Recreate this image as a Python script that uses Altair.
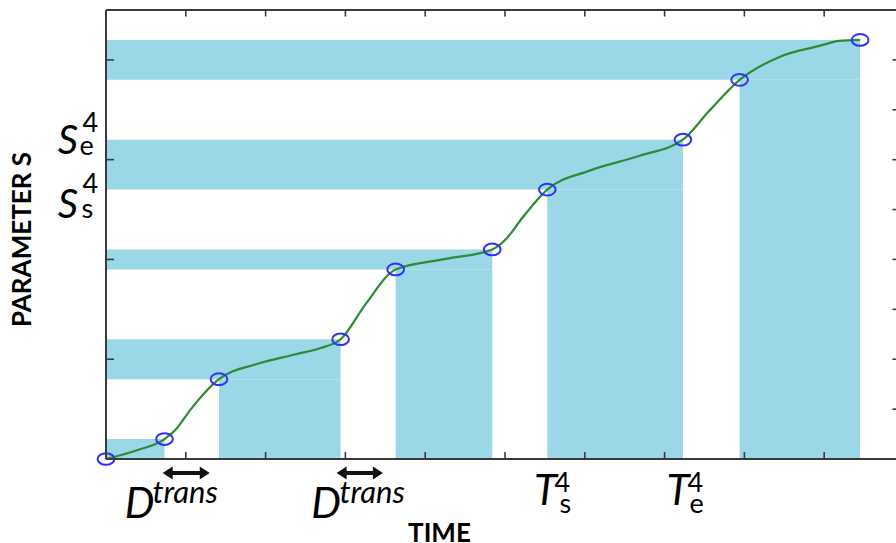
import altair as alt
import pandas as pd

# Stages of the parameter trajectory: each stage runs from (t_start, s_start) to (t_end, s_end)
T_START = [0.0, 1.416, 3.63, 5.53, 7.94]
T_END = [0.733, 2.94, 4.84, 7.23, 9.45]
S_START = [0.0, 0.8, 1.9, 2.7, 3.8]
S_END = [0.2, 1.2, 2.1, 3.2, 4.2]

# Smooth trajectory of S over time
CURVE_T = [0.0, 0.38, 0.733, 0.88, 1.05, 1.416, 1.88, 2.38, 2.68, 2.94, 3.26, 3.63,
           4.26, 4.84, 5.02, 5.22, 5.53, 6.06, 6.69, 7.23, 7.56, 7.94, 8.44, 8.94,
           9.19, 9.45]
CURVE_S = [0.0, 0.085, 0.2, 0.3, 0.485, 0.8, 0.95, 1.05, 1.11, 1.2, 1.56, 1.9,
           2.005, 2.1, 2.21, 2.42, 2.7, 2.89, 3.04, 3.2, 3.49, 3.8, 4.03, 4.14,
           4.19, 4.2]

T_MAX = 9.9
S_MAX = 4.5
X_TICKS = [1, 2, 3, 4, 5, 6, 7, 8, 9]
Y_TICKS_LEFT = [1, 2, 3, 4]
Y_TICKS_RIGHT = [0.5, 1.0, 1.5, 2.0, 2.5, 3.0, 3.5, 4.0]

# Transition-duration arrows (tips)
ARROW_START = [0.71, 2.89]
ARROW_END = [1.30, 3.47]
ARROW_S = -0.14

FONT = "Lato"
INK = "#3a3a3a"

# ---- tables ----
rect_rows = []
for ts, te, ss, se in zip(T_START, T_END, S_START, S_END):
    rect_rows.append({"t0": 0.0, "t1": te, "s0": ss, "s1": se})
    if ss > 0:
        rect_rows.append({"t0": ts, "t1": te, "s0": 0.0, "s1": ss})
rects = pd.DataFrame(rect_rows)

curve = pd.DataFrame({"t": CURVE_T, "s": CURVE_S})

knots = pd.DataFrame({
    "t": [v for pair in zip(T_START, T_END) for v in pair],
    "s": [v for pair in zip(S_START, S_END) for v in pair],
})

frame_rows = [
    {"t0": 0.0, "t1": 0.0, "s0": 0.0, "s1": S_MAX},
    {"t0": 0.0, "t1": T_MAX, "s0": 0.0, "s1": 0.0},
    {"t0": 0.0, "t1": T_MAX, "s0": S_MAX, "s1": S_MAX},
]
tick_rows = []
for t in X_TICKS:
    tick_rows.append({"t0": t, "t1": t, "s0": 0.0, "s1": 0.07})
    tick_rows.append({"t0": t, "t1": t, "s0": S_MAX, "s1": S_MAX - 0.065})
for s in Y_TICKS_LEFT:
    tick_rows.append({"t0": 0.0, "t1": 0.1, "s0": s, "s1": s})
for s in Y_TICKS_RIGHT:
    tick_rows.append({"t0": T_MAX - 0.045, "t1": T_MAX, "s0": s, "s1": s})
frame = pd.DataFrame(frame_rows)
ticks = pd.DataFrame(tick_rows)

arrows = pd.DataFrame({"a0": ARROW_START, "a1": ARROW_END, "s": [ARROW_S] * 2})

big_italic = pd.DataFrame({
    "text": ["S", "S", "D", "D", "T", "T"],
    "t": [-0.476, -0.476, 0.42, 2.757, 5.507, 7.168],
    "s": [3.056, 2.415, -0.591, -0.591, -0.461, -0.461],
    "fs": [40, 40, 42, 42, 42, 42],
})
small_italic = pd.DataFrame({
    "text": ["trans", "trans"],
    "t": [0.583, 2.926],
    "s": [-0.441, -0.441],
})
small_plain = pd.DataFrame({
    "text": ["4", "e", "4", "s", "4", "s", "4", "e"],
    "t": [-0.294, -0.332, -0.294, -0.307, 5.62, 5.683, 7.287, 7.312],
    "s": [3.277, 3.046, 2.665, 2.415, -0.331, -0.541, -0.331, -0.541],
})
y_title = pd.DataFrame({"text": ["PARAMETER S"], "t": [-1.04], "s": [2.2]})
x_title = pd.DataFrame({"text": ["TIME"], "t": [4.179], "s": [-0.832]})

# ---- encodings ----
xs = alt.Scale(domain=[0, T_MAX], nice=False, zero=False)
ys = alt.Scale(domain=[0, S_MAX], nice=False, zero=False)


def X(field):
    return alt.X(field, type="quantitative", scale=xs, axis=None)


def Y(field):
    return alt.Y(field, type="quantitative", scale=ys, axis=None)


bands = alt.Chart(rects).mark_rect(color="#9ad8e8").encode(
    x=X("t0"), x2="t1", y=Y("s0"), y2="s1"
)

line = alt.Chart(curve).mark_line(
    color="#2e8b33", strokeWidth=2.2, interpolate="monotone"
).encode(x=X("t"), y=Y("s"))

ellipse = "M-1,0A1,0.7,0,1,0,1,0A1,0.7,0,1,0,-1,0Z"
points = alt.Chart(knots).mark_point(
    shape=ellipse, size=280, filled=False, color="#2f2fff", strokeWidth=2, opacity=1
).encode(x=X("t"), y=Y("s"))

frame_lines = alt.Chart(frame).mark_rule(color=INK, strokeWidth=2).encode(
    x=X("t0"), x2="t1", y=Y("s0"), y2="s1"
)
tick_marks = alt.Chart(ticks).mark_rule(color=INK, strokeWidth=1.6).encode(
    x=X("t0"), x2="t1", y=Y("s0"), y2="s1"
)

arrow_shaft = alt.Chart(arrows).transform_calculate(
    b0="datum.a0 + 0.08", b1="datum.a1 - 0.08"
).mark_rule(color="#111111", strokeWidth=4).encode(
    x=X("b0:Q"), x2="b1:Q", y=Y("s")
)
head_left = alt.Chart(arrows).mark_point(
    shape="M0,0L1,-0.65L1,0.65Z", size=400, filled=True, color="#111111", opacity=1
).encode(x=X("a0"), y=Y("s"))
head_right = alt.Chart(arrows).mark_point(
    shape="M0,0L-1,-0.65L-1,0.65Z", size=400, filled=True, color="#111111", opacity=1
).encode(x=X("a1"), y=Y("s"))

big_letters = alt.Chart(big_italic).mark_text(
    font=FONT, fontStyle="italic", align="center", baseline="alphabetic", color="black"
).encode(
    x=X("t"), y=Y("s"), text="text:N",
    size=alt.Size("fs:Q", scale=None, legend=None),
)
trans_text = alt.Chart(small_italic).mark_text(
    font=FONT, fontStyle="italic", fontSize=31, align="left",
    baseline="alphabetic", color="black"
).encode(x=X("t"), y=Y("s"), text="text:N")
scripts = alt.Chart(small_plain).mark_text(
    font=FONT, fontSize=27, align="left", baseline="alphabetic", color="black"
).encode(x=X("t"), y=Y("s"), text="text:N")

y_label = alt.Chart(y_title).mark_text(
    font=FONT, fontWeight="bold", fontSize=26, angle=270, align="center",
    baseline="middle", color="black"
).encode(x=X("t"), y=Y("s"), text="text:N")
x_label = alt.Chart(x_title).mark_text(
    font=FONT, fontWeight="bold", fontSize=26, align="center",
    baseline="alphabetic", color="black"
).encode(x=X("t"), y=Y("s"), text="text:N")

chart = alt.layer(
    bands, line, points, frame_lines, tick_marks,
    arrow_shaft, head_left, head_right,
    big_letters, trans_text, scripts, y_label, x_label,
).properties(
    width=790,
    height=449,
    padding={"left": 106, "top": 10, "right": 0, "bottom": 84},
    autosize=alt.AutoSizeParams(type="none"),
    background="white",
).configure_view(stroke=None)

chart.save("out.html", embed_options={"renderer": "svg", "actions": False})
